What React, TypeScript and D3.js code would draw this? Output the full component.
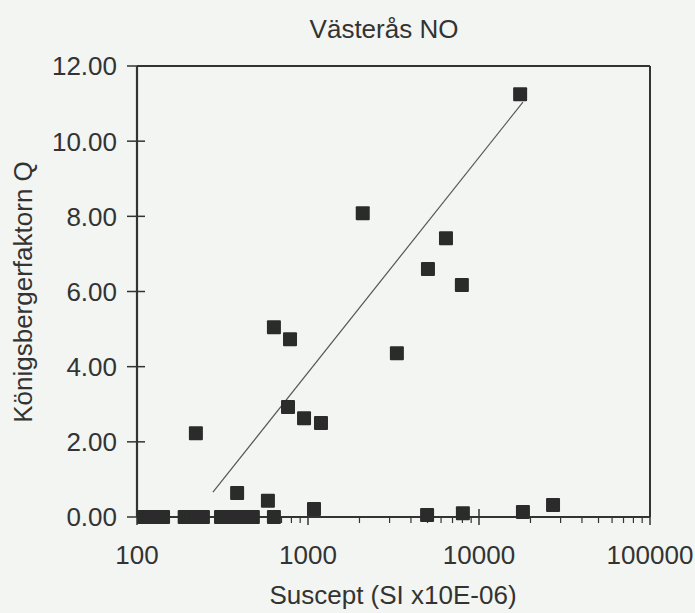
import React from "react";
import * as d3 from "d3";

const title = "Västerås NO";
const xTitle = "Suscept (SI x10E-06)";
const yTitle = "Königsbergerfaktorn Q";

// susceptibility (SI x10E-06) and Königsberger factor Q
const suscept = [
  110, 119, 131, 142, 190, 207, 224, 243, 310, 336, 364, 400, 433, 476, 632,
  221, 385, 583, 1084, 632, 785, 764, 948, 1191, 2090, 3310, 5030, 6410, 7940,
  17400, 4970, 8050, 18070, 27100,
];
const qFactor = [
  0, 0, 0, 0, 0, 0, 0, 0, 0, 0, 0, 0, 0, 0, 0,
  2.23, 0.64, 0.43, 0.21, 5.05, 4.73, 2.93, 2.63, 2.5, 8.08, 4.36, 6.6, 7.42, 6.17,
  11.25, 0.05, 0.1, 0.13, 0.32,
];

// regression line end points
const fitX = [278, 18070];
const fitY = [0.66, 11.04];

const xTicks = [100, 1000, 10000, 100000];
const xTickLabels = ["100", "1000", "10000", "100000"];
const yTicks = [0, 2, 4, 6, 8, 10, 12];
const yTickLabels = ["0.00", "2.00", "4.00", "6.00", "8.00", "10.00", "12.00"];

const W = 695;
const H = 613;
const M = { left: 137, right: 650, top: 66, bottom: 517 };

export default function App() {
  const x = d3.scaleLog().domain([100, 100000]).range([M.left, M.right]);
  const y = d3.scaleLinear().domain([0, 12]).range([M.bottom, M.top]);

  const minor: number[] = [];
  for (let d = 100; d < 100000; d *= 10) {
    for (let k = 2; k <= 9; k++) minor.push(d * k);
  }

  const pts = suscept.map((s, i) => ({ s, q: qFactor[i] }));
  const fitLine = d3
    .line<number>()
    .x((_, i) => x(fitX[i]))
    .y((v) => y(v))(fitY);

  const font = "'Liberation Sans', Arial, Helvetica, sans-serif";
  const textColor = "#333";
  const axisColor = "#333";
  const fs = 26;
  const ms = 14;

  return (
    <svg
      width={W}
      height={H}
      style={{ position: "absolute", left: 0, top: 0, background: "#f2f5f1" }}
      fontFamily={font}
    >
      <rect x={0} y={0} width={W} height={H} fill="#f2f5f1" />
      <text x={384} y={38} textAnchor="middle" fontSize={fs} fill={textColor}>
        {title}
      </text>

      {/* frame */}
      <line x1={M.left} x2={M.right} y1={M.top} y2={M.top} stroke={axisColor} strokeWidth={2} />
      <line x1={M.right} x2={M.right} y1={M.top} y2={M.bottom} stroke={axisColor} strokeWidth={2} />
      <line x1={M.left} x2={M.left} y1={M.top} y2={M.bottom} stroke={axisColor} strokeWidth={2.2} />
      <line x1={M.left} x2={M.right} y1={M.bottom} y2={M.bottom} stroke={axisColor} strokeWidth={2.2} />

      {/* y ticks */}
      {yTicks.map((t, i) => (
        <g key={"y" + t}>
          <line x1={M.left - 10} x2={M.left + 8} y1={y(t)} y2={y(t)} stroke={axisColor} strokeWidth={1.5} />
          <text x={117} y={y(t)} dy="0.36em" textAnchor="end" fontSize={fs} fill={textColor}>
            {yTickLabels[i]}
          </text>
        </g>
      ))}

      {/* x ticks */}
      {minor.map((t) => (
        <line key={"m" + t} x1={x(t)} x2={x(t)} y1={M.bottom} y2={M.bottom + 6} stroke={axisColor} strokeWidth={1.2} />
      ))}
      {xTicks.map((t, i) => (
        <g key={"x" + t}>
          <line x1={x(t)} x2={x(t)} y1={M.bottom - 8} y2={M.bottom + 8} stroke={axisColor} strokeWidth={1.5} />
          <text x={x(t)} y={564} textAnchor="middle" fontSize={fs} fill={textColor}>
            {xTickLabels[i]}
          </text>
        </g>
      ))}

      <text x={393} y={604} textAnchor="middle" fontSize={fs} fill={textColor}>
        {xTitle}
      </text>
      <text
        transform={`translate(32, 292) rotate(-90)`}
        textAnchor="middle"
        fontSize={fs}
        fill={textColor}
      >
        {yTitle}
      </text>

      {/* regression line */}
      <path d={fitLine || ""} fill="none" stroke="#555" strokeWidth={1.2} />

      {/* points */}
      {pts.map((p, i) => (
        <rect
          key={i}
          x={x(p.s) - ms / 2}
          y={y(p.q) - ms / 2}
          width={ms}
          height={ms}
          rx={1}
          fill="#2b2b2b"
        />
      ))}
    </svg>
  );
}
